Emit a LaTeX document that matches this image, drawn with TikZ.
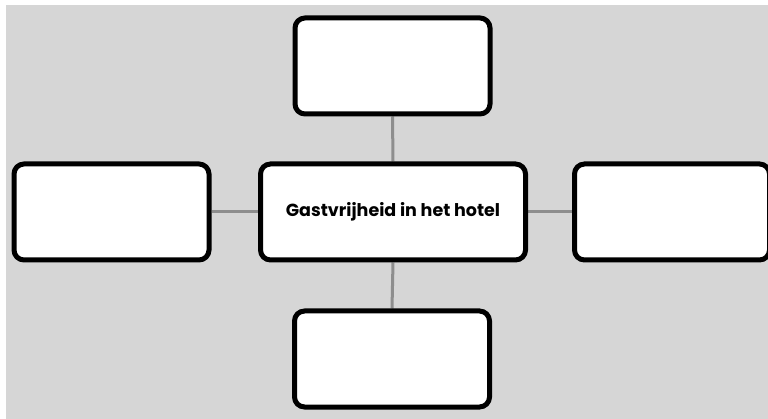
\documentclass[tikz,border=0pt]{standalone}
\usepackage{fontspec}
\setmainfont{Poppins}
\pgfdeclarelayer{bg}
\pgfdeclarelayer{links}
\pgfsetlayers{bg,links,main}
\begin{document}
\begin{tikzpicture}[x=1pt,y=-1pt,
  box/.style={draw=black,fill=white,line width=5pt,rounded corners=10pt,minimum width=195pt,minimum height=96pt,inner sep=0pt},
  link/.style={draw=linkgray,line width=3pt}]
\definecolor{bggray}{HTML}{D6D6D6}
\definecolor{linkgray}{HTML}{8E8E8E}
\useasboundingbox (0,0) rectangle (768,419);
\begin{pgfonlayer}{bg}
\fill[white] (0,0) rectangle (768,419);
\fill[bggray] (6,5) rectangle (768,419);
\end{pgfonlayer}
\node[box,minimum width=265pt] (c) at (393,212) {\fontsize{17.5pt}{20pt}\selectfont\bfseries Gastvrijheid in het hotel};
\node[box] (t) at (392.5,66) {};
\node[box] (b) at (392,359) {};
\node[box] (l) at (111.5,212) {};
\node[box] (r) at (672,212) {};
\begin{pgfonlayer}{links}
\draw[link] (c.north) -- (t.south);
\draw[link] (c.south) -- (b.north);
\draw[link] (c.west) -- (l.east);
\draw[link] (c.east) -- (r.west);
\end{pgfonlayer}
\end{tikzpicture}
\end{document}
